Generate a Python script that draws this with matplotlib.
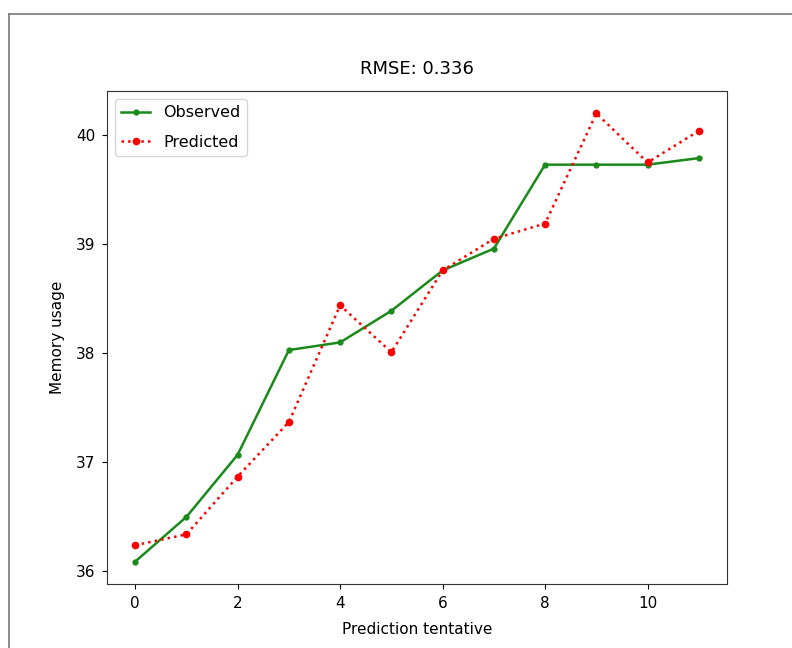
import matplotlib.pyplot as plt
from matplotlib.lines import Line2D

# values
tentative = list(range(12))
observed = [36.09, 36.50, 37.07, 38.03, 38.10, 38.39, 38.76, 38.96, 39.73, 39.73, 39.73, 39.79]
predicted = [36.24, 36.34, 36.87, 37.37, 38.44, 38.01, 38.76, 39.05, 39.19, 40.20, 39.75, 40.04]
rmse_label = "RMSE: 0.336"

fig = plt.figure(figsize=(7.92, 6.48), dpi=100)
ax = fig.add_axes([107 / 792, 1 - 584 / 648, 620 / 792, 493 / 648])

ax.plot(tentative, observed, '.-', color='#1a8a1a', lw=1.8, ms=7, label='Observed')
ax.plot(tentative, predicted, 'r.:', lw=1.8, ms=9, label='Predicted')

ax.set_title(rmse_label, fontsize=13, pad=12)
ax.set_xlabel('Prediction tentative', fontsize=11, labelpad=8)
ax.set_ylabel('Memory usage', fontsize=11, labelpad=8)
ax.tick_params(labelsize=11, pad=5)
for s in ax.spines.values():
    s.set_color('#333333')
ax.legend(loc='upper left', fontsize=11.5, labelspacing=0.9, handlelength=1.8)

# screenshot frame
fig.add_artist(Line2D([9 / 792, 9 / 792], [0, 1 - 14 / 648], color='#777777', lw=1.2))
fig.add_artist(Line2D([9 / 792, 1], [1 - 14 / 648, 1 - 14 / 648], color='#777777', lw=1.2))

fig.savefig('out.png', dpi=100)
